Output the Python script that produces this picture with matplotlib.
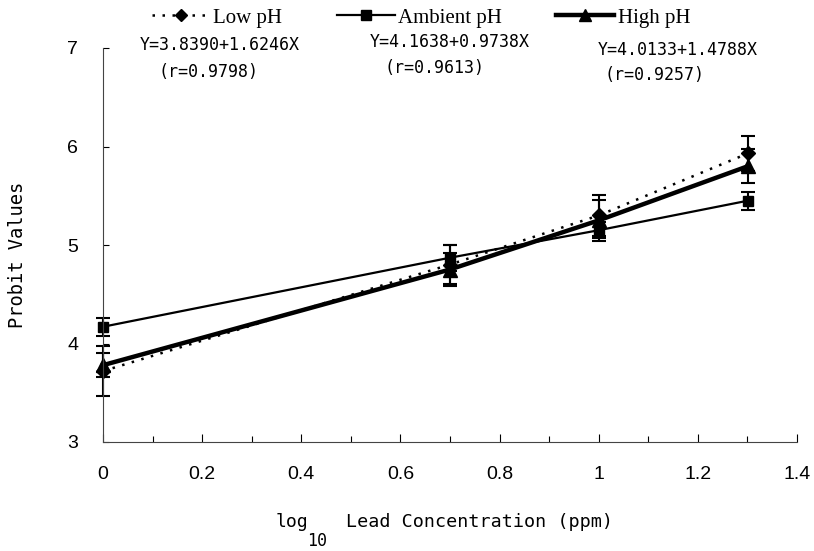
import matplotlib
matplotlib.use("Agg")
import matplotlib.pyplot as plt
from matplotlib.lines import Line2D
from matplotlib.ticker import MultipleLocator

# data (x = log10 of lead concentration)
log_conc = [0.0, 0.699, 1.0, 1.301]

low_ph = [3.72, 4.80, 5.30, 5.93]
low_err = [0.25, 0.20, 0.21, 0.18]

ambient_ph = [4.17, 4.87, 5.15, 5.45]
ambient_err = [0.09, 0.13, 0.08, 0.09]

high_ph = [3.78, 4.75, 5.25, 5.80]
high_err = [0.12, 0.17, 0.21, 0.17]

series_names = ["Low pH", "Ambient pH", "High pH"]
equations = ["Y=3.8390+1.6246X", "Y=4.1638+0.9738X", "Y=4.0133+1.4788X"]
r_values = ["(r=0.9798)", "(r=0.9613)", "(r=0.9257)"]
x_ticks = [0, 0.2, 0.4, 0.6, 0.8, 1.0, 1.2, 1.4]
x_tick_labels = ["0", "0.2", "0.4", "0.6", "0.8", "1", "1.2", "1.4"]

W, H = 814, 551
fig = plt.figure(figsize=(W / 100, H / 100), dpi=100)
ax = fig.add_axes([103 / W, 1 - 442 / H, (797 - 103) / W, (442 - 48) / H])

styles = [
    dict(linestyle=(0, (1, 3)), lw=1.8, marker="D", markersize=7),
    dict(linestyle="-", lw=1.6, marker="s", markersize=7),
    dict(linestyle="-", lw=3.2, marker="^", markersize=10),
]
for vals, errs, st in zip([low_ph, ambient_ph, high_ph], [low_err, ambient_err, high_err], styles):
    cont = ax.errorbar(log_conc, vals, yerr=errs, color="black", capsize=5,
                       elinewidth=1.5, capthick=1.5, **st)
    for art in cont.get_children():
        art.set_clip_on(False)

ax.set_xlim(0, 1.4)
ax.set_ylim(3, 7)
ax.set_xticks(x_ticks)
ax.set_xticklabels(x_tick_labels)
ax.xaxis.set_minor_locator(MultipleLocator(0.1))
ax.yaxis.set_major_locator(MultipleLocator(1))

for side in ["top", "right"]:
    ax.spines[side].set_visible(False)
for side in ["left", "bottom"]:
    ax.spines[side].set_linewidth(0.8)
    ax.spines[side].set_color("#444444")

ax.tick_params(axis="x", which="major", direction="in", length=6, width=0.8, pad=17,
               labelsize=14)
ax.tick_params(axis="x", which="minor", direction="in", length=4, width=0.8)
ax.tick_params(axis="y", which="major", direction="in", length=4, width=0.8, pad=18,
               labelsize=14)
for lbl in ax.get_xticklabels() + ax.get_yticklabels():
    lbl.set_fontfamily("Liberation Sans")

# legend across the top (plain line+marker handles, no error bars)
handles = [Line2D([], [], color="black", **st) for st in styles]
handles[0].set_markersize(6)
handles[2].set_markersize(9)
fig.legend(handles, series_names, loc="center", bbox_to_anchor=(0.5 + 14 / W, 1 - 18 / H),
           ncol=3, frameon=False, handlelength=2.8, columnspacing=2.6, handletextpad=0.15,
           prop={"family": "Liberation Serif", "size": 15})

# regression equations
mono = "DejaVu Sans Mono"
eq_pos = [(140, 45), (370, 42), (598, 50)]
r_pos = [(158, 72), (384, 68), (604, 75)]
for (x, y), txt in zip(eq_pos, equations):
    fig.text(x / W, 1 - y / H, txt, family=mono, fontsize=12, va="center", ha="left")
for (x, y), txt in zip(r_pos, r_values):
    fig.text(x / W, 1 - y / H, txt, family=mono, fontsize=12, va="center", ha="left")

# axis labels
fig.text(18 / W, 1 - 255 / H, "Probit Values", family=mono, fontsize=13.5,
         rotation=90, va="center", ha="center")
fig.text(276 / W, 1 - 522 / H, "log", family=mono, fontsize=13, va="center", ha="left")
fig.text(307 / W, 1 - 541 / H, "10", family=mono, fontsize=12, va="center", ha="left")
fig.text(346 / W, 1 - 522 / H, "Lead Concentration (ppm)", family=mono, fontsize=13.2,
         va="center", ha="left")

fig.savefig("out.png", dpi=100, facecolor="white")
